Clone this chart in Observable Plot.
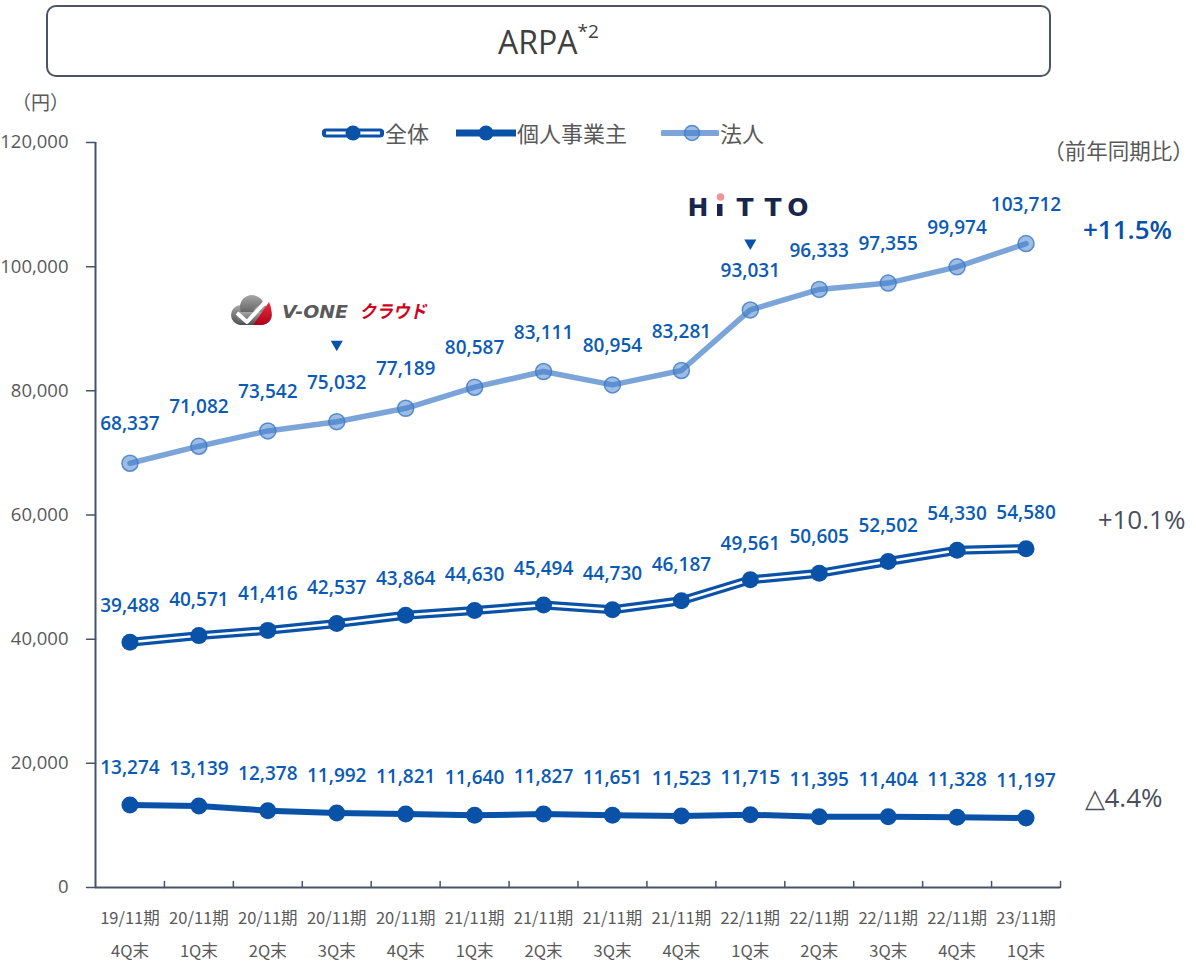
<!DOCTYPE html>
<html>
<head>
<meta charset="utf-8">
<script src="https://cdn.jsdelivr.net/npm/d3@7"></script>
<script src="https://cdn.jsdelivr.net/npm/@observablehq/plot@0.6"></script>
<style>
  body { margin: 0; background: #fff; }
  #wrap { position: relative; width: 1196px; height: 963px; overflow: hidden; font-family: "Noto Sans CJK JP", "Open Sans", sans-serif; color: #595959; }
  #wrap svg.plot { position: absolute; left: 0; top: 0; }
  .abs { position: absolute; white-space: nowrap; }
  #title { left: 46px; top: 5px; width: 1001px; height: 68px; border: 2px solid #4b5566; border-radius: 10px; display: flex; align-items: center; justify-content: center; font-family: "Open Sans", sans-serif; font-size: 32px; color: #3f3f3f; }
  #title sup { font-size: 19px; position: relative; top: -4px; }
</style>
</head>
<body>
<div id="wrap">
  <div id="title" class="abs"><span>ARPA<sup>*2</sup></span></div>
  <div id="legend"></div>
</div>
<script>
// ---- data ----
const periods = ["19/11期","20/11期","20/11期","20/11期","20/11期","21/11期","21/11期","21/11期","21/11期","22/11期","22/11期","22/11期","22/11期","23/11期"];
const quarters = ["4Q末","1Q末","2Q末","3Q末","4Q末","1Q末","2Q末","3Q末","4Q末","1Q末","2Q末","3Q末","4Q末","1Q末"];
const total = [39488,40571,41416,42537,43864,44630,45494,44730,46187,49561,50605,52502,54330,54580];
const sole  = [13274,13139,12378,11992,11821,11640,11827,11651,11523,11715,11395,11404,11328,11197];
const corp  = [68337,71082,73542,75032,77189,80587,83111,80954,83281,93031,96333,97355,99974,103712];
const seriesNames = ["全体","個人事業主","法人"];
const yoy = ["+10.1%","△4.4%","+11.5%"];
const yTicks = [0,20000,40000,60000,80000,100000,120000];
const unitLabel = "（円）";
const yoyLabel = "（前年同期比）";
const markers = [{i: 3, v: 87500, logo: "vone"}, {i: 9, v: 103800, logo: "hitto"}];

// ---- styles ----
const blue = "#0a52a8";
const labelBlue = "#0b5bb5";
const lightLine = "#7ba4d9";
const corpDot = "#3f7cc9";
const axisColor = "#44546a";
const gray = "#595959";

const idx = d3.range(periods.length);
const rows = idx.map(i => ({i, total: total[i], sole: sole[i], corp: corp[i]}));
const boundaries = idx.map(i => i + 0.5);
const fmt = d3.format(",");
const tickShape = {draw(ctx, l) { ctx.moveTo(0, 0); ctx.lineTo(0, -l); }};
const crossShape = {draw(ctx, l) { ctx.moveTo(0, l / 2); ctx.lineTo(0, -l / 2); }};
const numFont = "'Open Sans', sans-serif";
const cjkFont = "'Noto Sans CJK JP', sans-serif";

const chart = Plot.plot({
  width: 1196, height: 963,
  marginTop: 142, marginBottom: 76, marginLeft: 95, marginRight: 136,
  x: {type: "linear", domain: [-0.5, 13.5]},
  y: {domain: [0, 120000]},
  style: {background: "transparent", overflow: "visible", fontFamily: cjkFont, color: gray},
  marks: [
    Plot.axisY({ticks: yTicks, tickSize: 0, tickPadding: 27, tickFormat: fmt, fontSize: 18.5, fontFamily: numFont, fill: gray, label: null}),
    Plot.axisX({ticks: idx, tickSize: 0, tickPadding: 14, tickFormat: i => periods[i] + "\n" + quarters[i], lineHeight: 1.95, fontSize: 16.5, fill: gray, label: null}),
    Plot.vector(boundaries, {x: d => d, y: 0, length: 6, anchor: "start", shape: tickShape, stroke: axisColor, strokeWidth: 1.5}),
    Plot.vector(yTicks, {x: -0.5, y: d => d, length: 9, rotate: 90, anchor: "middle", shape: crossShape, stroke: axisColor, strokeWidth: 1.5}),
    Plot.ruleX([-0.5], {stroke: axisColor, strokeWidth: 2}),
    Plot.ruleY([0], {stroke: axisColor, strokeWidth: 2}),
    // unit and yoy header
    Plot.text([unitLabel], {frameAnchor: "top-left", textAnchor: "middle", lineAnchor: "middle", dx: -55, dy: -39, fontSize: 19, fontFamily: cjkFont, fill: gray}),
    Plot.text([yoyLabel], {frameAnchor: "top-right", textAnchor: "middle", lineAnchor: "middle", dx: 58, dy: 10, fontSize: 21.5, fontFamily: cjkFont, fill: gray}),
    // 法人
    Plot.line(rows, {x: "i", y: "corp", stroke: lightLine, strokeWidth: 5.5}),
    Plot.dot(rows, {x: "i", y: "corp", r: 8, fill: corpDot, fillOpacity: 0.5, stroke: corpDot, strokeOpacity: 0.85, strokeWidth: 1.5}),
    // 全体
    Plot.line(rows, {x: "i", y: "total", stroke: blue, strokeWidth: 9}),
    Plot.line(rows, {x: "i", y: "total", stroke: "#fff", strokeWidth: 2.5}),
    Plot.dot(rows, {x: "i", y: "total", r: 8.5, fill: blue}),
    // 個人事業主
    Plot.line(rows, {x: "i", y: "sole", stroke: blue, strokeWidth: 6}),
    Plot.dot(rows, {x: "i", y: "sole", r: 8.5, fill: blue}),
    // labels
    Plot.text(rows, {x: "i", y: "corp", text: d => fmt(d.corp), dy: -39, fill: labelBlue, fontSize: 19, fontWeight: 600, fontFamily: numFont}),
    Plot.text(rows, {x: "i", y: "total", text: d => fmt(d.total), dy: -36, fill: labelBlue, fontSize: 19, fontWeight: 600, fontFamily: numFont}),
    Plot.text(rows, {x: "i", y: "sole", text: d => fmt(d.sole), dy: -37, fill: labelBlue, fontSize: 19, fontWeight: 600, fontFamily: numFont}),
    // annotation triangles
    Plot.dot(markers, {x: "i", y: "v", symbol: "triangle", rotate: 180, r: 4.5, fill: blue})
  ]
});
chart.classList.add("plot");
const wrap = document.getElementById("wrap");
wrap.appendChild(chart);

const sx = chart.scale("x").apply, sy = chart.scale("y").apply;

// YoY annotations, aligned with each series' last point
function addText(txt, x, y, css) {
  const d = document.createElement("div");
  d.className = "abs";
  d.textContent = txt;
  d.style.cssText = css;
  d.style.left = x + "px"; d.style.top = y + "px";
  d.style.transform = "translate(-50%,-50%)";
  wrap.appendChild(d);
}
const xr = sx(13) + 102;
addText(yoy[2], xr, sy(corp[13]) - 14, `font-family:${numFont}; font-size:26px; font-weight:600; color:${blue};`);
addText(yoy[0], xr + 14, sy(total[13]) - 29, `font-family:${numFont}; font-size:26px; color:#4a4f5c;`);
addText(yoy[1], xr - 4, sy(sole[13]) - 20, `font-family:${numFont}; font-size:26px; color:#4a4f5c;`);

// legend
const leg = document.getElementById("legend");
const legendItems = [
  {name: seriesNames[0], x: 322, kind: "total", w: 62},
  {name: seriesNames[1], x: 456, kind: "sole", w: 60},
  {name: seriesNames[2], x: 661, kind: "corp", w: 58}
];
for (const it of legendItems) {
  const s = document.createElementNS("http://www.w3.org/2000/svg", "svg");
  s.setAttribute("width", it.w); s.setAttribute("height", 22);
  s.setAttribute("class", "abs");
  s.style.left = it.x + "px"; s.style.top = "122px";
  const m = it.w / 2;
  let inner = "";
  if (it.kind === "total") {
    inner = `<line x1="4" x2="${it.w-4}" y1="11" y2="11" stroke="${blue}" stroke-width="9" stroke-linecap="round"/>
             <line x1="4" x2="${it.w-4}" y1="11" y2="11" stroke="#fff" stroke-width="3"/>
             <circle cx="${m}" cy="11" r="7.5" fill="${blue}"/>`;
  } else if (it.kind === "sole") {
    inner = `<line x1="0" x2="${it.w}" y1="11" y2="11" stroke="${blue}" stroke-width="7"/>
             <circle cx="${m}" cy="11" r="7.5" fill="${blue}"/>`;
  } else {
    inner = `<line x1="2" x2="${it.w-2}" y1="11" y2="11" stroke="${lightLine}" stroke-width="6" stroke-linecap="round"/>
             <circle cx="${m+2}" cy="11" r="7.5" fill="${corpDot}" fill-opacity="0.5" stroke="${corpDot}" stroke-opacity="0.85" stroke-width="1.5"/>`;
  }
  s.innerHTML = inner;
  leg.appendChild(s);
  const t = document.createElement("div");
  t.className = "abs";
  t.textContent = it.name;
  t.style.cssText = "font-size:22px; line-height:22px; color:#595959;";
  t.style.left = (it.x + it.w + 1) + "px"; t.style.top = "121px";
  leg.appendChild(t);
}

// logos above the annotation triangles
for (const mk of markers) {
  const s = document.createElementNS("http://www.w3.org/2000/svg", "svg");
  s.setAttribute("class", "abs");
  s.style.overflow = "visible";
  if (mk.logo === "vone") {
    const w = 215, h = 44;
    s.setAttribute("width", w); s.setAttribute("height", h);
    s.style.left = (sx(mk.i) - 109) + "px"; s.style.top = (sy(mk.v) - 52) + "px";
    s.innerHTML = `
      <defs><linearGradient id="cg" x1="0" y1="0" x2="0" y2="1"><stop offset="0" stop-color="#a6a6a6"/><stop offset="1" stop-color="#4d4d4d"/></linearGradient>
      <linearGradient id="rg" x1="0" y1="0" x2="0" y2="1"><stop offset="0" stop-color="#e8303f"/><stop offset="1" stop-color="#b0001a"/></linearGradient></defs>
      <circle cx="14" cy="23" r="10" fill="url(#cg)"/>
      <circle cx="25" cy="15" r="12" fill="url(#cg)"/>
      <circle cx="35" cy="23" r="10" fill="url(#cg)"/>
      <rect x="10" y="20" width="28" height="13" rx="4" fill="url(#cg)"/>
      <path d="M26,33 L42,10 Q46,18 44,26 Q41,33 33,33 Z" fill="url(#rg)"/>
      <path d="M10,21 L20,30 L41,7" fill="none" stroke="#fff" stroke-width="4" stroke-linejoin="round"/>
      <text x="55" y="26" font-family="'DejaVu Sans', sans-serif" font-weight="bold" font-style="italic" font-size="18" fill="#5a5a5a" textLength="66" lengthAdjust="spacingAndGlyphs">V-ONE</text>
      <g transform="translate(134,0) skewX(-12)"><text x="4" y="26" font-family="'Noto Sans CJK JP', sans-serif" font-weight="bold" font-size="18" fill="#d0021b" textLength="67" lengthAdjust="spacingAndGlyphs">クラウド</text></g>`;
  } else {
    const w = 130, h = 40;
    s.setAttribute("width", w); s.setAttribute("height", h);
    const left = sx(mk.i) - 63, top = sy(mk.v) - 56;
    s.style.left = left + "px"; s.style.top = top + "px";
    const f = `font-family="'DejaVu Sans', sans-serif" font-weight="bold" font-size="25" fill="#17264a" text-anchor="middle"`;
    s.innerHTML = `
      <text x="11" y="29" ${f}>H</text>
      <rect x="30" y="17" width="5.5" height="12" fill="#17264a"/>
      <circle cx="33.5" cy="10" r="3.8" fill="#f2949c"/>
      <text x="58" y="29" ${f}>T</text>
      <text x="86" y="29" ${f}>T</text>
      <text x="111" y="29" ${f}>O</text>`;
  }
  wrap.appendChild(s);
}
</script>
</body>
</html>
